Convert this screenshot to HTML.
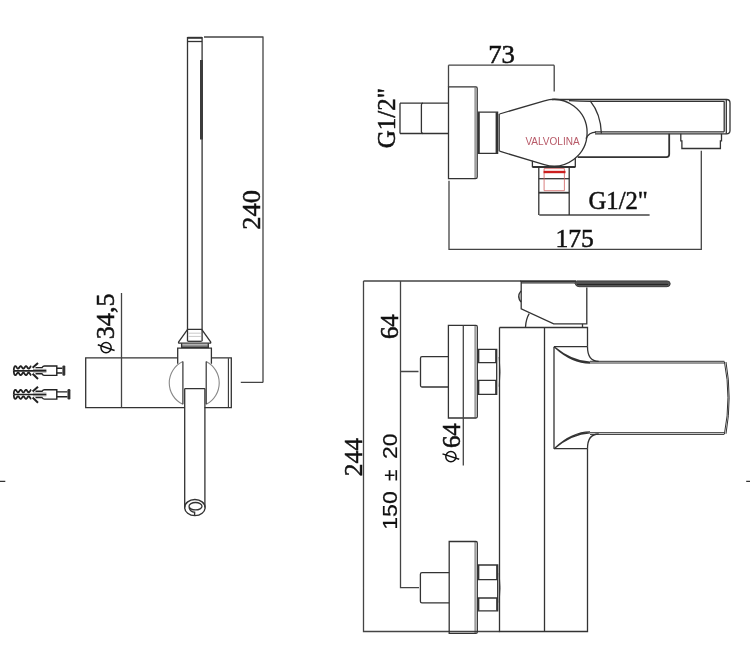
<!DOCTYPE html>
<html><head><meta charset="utf-8"><style>
html,body{margin:0;padding:0;background:#fff;}
svg{display:block;} text{-webkit-font-smoothing:antialiased;}
</style></head><body>
<svg width="750" height="646" viewBox="0 0 750 646" style="will-change:transform">
<rect width="750" height="646" fill="#fff"/>
<g stroke="#333" stroke-width="1.3" fill="none">
<path d="M187.5,37 V341.3 M202.1,37 V341.3"/>
<path d="M187.5,37.8 H202.1" stroke-width="2"/>
<path d="M187.5,41.5 H202.1"/>
<rect x="200" y="60" width="3" height="79.5" fill="#3c3c3c" stroke="none"/>
<path d="M187.6,329.4 H201.7 L210.6,341.8 Q211.2,343.2 209.8,343.2 H179.5 Q178.1,343.2 178.7,341.8 Z"/>
<path d="M187.6,341.3 H201.7"/>
<path d="M188.5,333.2 H200.8 M188.5,336.4 H200.8" stroke="#bbb" stroke-width="0.8"/>
<path d="M181.6,343.2 V347 M208.3,343.2 V347"/>
<path d="M181.6,345.1 H208.3" stroke-width="0.9"/>
<path d="M181,347.2 H209" stroke-width="1.8"/>
<path d="M177.7,363.7 V348.2 H211.4 V363.7"/>
<path d="M177.7,357.8 H85.7 V407.6 H184.5 M211.4,357.8 H231.3 V407.6 H204.5"/>
<path d="M228.4,358.3 V407.1" stroke-width="1.1"/>
<path d="M121.5,293 V407.6" stroke="#444"/>
<path d="M182.9,361.5 A23.6,23.6 0 0 0 182.9,404.3 M206.2,361.5 A24.1,24.1 0 0 1 206.2,404.3" stroke="#888" stroke-width="1.1"/>
<path d="M182.9,361.5 V404.3 M206.2,361.5 V404.3" stroke-width="1.2"/>
<path d="M184.7,388.6 H204.9 M184.7,388.6 V507.6 M204.9,388.6 V507.6"/>
<ellipse cx="194.9" cy="507.6" rx="10.2" ry="8.05" stroke-width="1.4"/>
<ellipse cx="195.5" cy="506.2" rx="6.5" ry="3.7" stroke-width="1.3"/>
<path d="M189.2,507.3 Q190,512 194.6,512.2 V515.6" stroke-width="1.4"/>
<path d="M204,37 H263.5 M263,37 V382.4 M240.8,382.4 H263" stroke="#444"/>
</g>
<g stroke="#222" stroke-width="1.4" fill="none"><path d="M13.8,370.80 Q13.8,366.15 15.40,366.15 L15.70,366.23 L16.00,366.45 L16.30,366.80 L16.60,367.22 L16.90,367.66 L17.20,368.07 L17.50,368.39 L17.80,368.60 L18.10,368.65 L18.40,368.54 L18.70,368.30 L19.00,367.94 L19.30,367.51 L19.60,367.07 L19.90,366.67 L20.20,366.36 L20.50,366.18 L20.80,366.16 L21.10,366.29 L21.40,366.56 L21.70,366.93 L22.00,367.36 L22.30,367.80 L22.60,368.19 L22.90,368.48 L23.20,368.63 L23.50,368.63 L23.80,368.48 L24.10,368.19 L24.40,367.80 L24.70,367.36 L25.00,366.93 L25.30,366.56 L25.60,366.29 L25.90,366.16 L26.20,366.18 L26.50,366.36 L26.80,366.67 L27.10,367.07 L27.40,367.51 L27.70,367.94 L28.00,368.30 L28.30,368.54 L28.60,368.65 L28.90,368.60 L29.20,368.39 L29.50,368.07 L29.80,367.66 L30.10,367.22 L30.40,366.80 L30.70,366.45 L31.00,366.23 L31.30,366.15" stroke-width="1.8"/><path d="M13.8,370.80 Q13.8,375.15 15.40,375.15 L15.70,375.07 L16.00,374.85 L16.30,374.50 L16.60,374.08 L16.90,373.64 L17.20,373.23 L17.50,372.91 L17.80,372.70 L18.10,372.65 L18.40,372.76 L18.70,373.00 L19.00,373.36 L19.30,373.79 L19.60,374.23 L19.90,374.63 L20.20,374.94 L20.50,375.12 L20.80,375.14 L21.10,375.01 L21.40,374.74 L21.70,374.37 L22.00,373.94 L22.30,373.50 L22.60,373.11 L22.90,372.82 L23.20,372.67 L23.50,372.67 L23.80,372.82 L24.10,373.11 L24.40,373.50 L24.70,373.94 L25.00,374.37 L25.30,374.74 L25.60,375.01 L25.90,375.14 L26.20,375.12 L26.50,374.94 L26.80,374.63 L27.10,374.23 L27.40,373.79 L27.70,373.36 L28.00,373.00 L28.30,372.76 L28.60,372.65 L28.90,372.70 L29.20,372.91 L29.50,373.23 L29.80,373.64 L30.10,374.08 L30.40,374.50 L30.70,374.85 L31.00,375.07 L31.30,375.15" stroke-width="1.8"/><path d="M14,370.8 H46.4" stroke-width="1.7"/><path d="M33,369.40000000000003 H46.4 M33,372.1 H46.4" stroke-width="0.8" stroke="#777"/><path d="M32.6,367.8 L38,363.0 M32.6,373.8 L38,379.0" stroke-width="2"/><path d="M35.5,367.6 H42 Q43,366.0 44.5,366.0 H56.8 V375.40000000000003 H44.5 Q43,375.40000000000003 42,373.8 H35.5"/><path d="M56.8,368.2 H62.4 M56.8,373.0 H62.4"/><rect x="62.4" y="365.40000000000003" width="2.9" height="10.4" rx="1.2" fill="#333" stroke="none"/></g>
<g stroke="#222" stroke-width="1.4" fill="none"><path d="M13.8,394.50 Q13.8,389.85 15.40,389.85 L15.70,389.93 L16.00,390.15 L16.30,390.50 L16.60,390.92 L16.90,391.36 L17.20,391.77 L17.50,392.09 L17.80,392.30 L18.10,392.35 L18.40,392.24 L18.70,392.00 L19.00,391.64 L19.30,391.21 L19.60,390.77 L19.90,390.37 L20.20,390.06 L20.50,389.88 L20.80,389.86 L21.10,389.99 L21.40,390.26 L21.70,390.63 L22.00,391.06 L22.30,391.50 L22.60,391.89 L22.90,392.18 L23.20,392.33 L23.50,392.33 L23.80,392.18 L24.10,391.89 L24.40,391.50 L24.70,391.06 L25.00,390.63 L25.30,390.26 L25.60,389.99 L25.90,389.86 L26.20,389.88 L26.50,390.06 L26.80,390.37 L27.10,390.77 L27.40,391.21 L27.70,391.64 L28.00,392.00 L28.30,392.24 L28.60,392.35 L28.90,392.30 L29.20,392.09 L29.50,391.77 L29.80,391.36 L30.10,390.92 L30.40,390.50 L30.70,390.15 L31.00,389.93 L31.30,389.85" stroke-width="1.8"/><path d="M13.8,394.50 Q13.8,398.85 15.40,398.85 L15.70,398.77 L16.00,398.55 L16.30,398.20 L16.60,397.78 L16.90,397.34 L17.20,396.93 L17.50,396.61 L17.80,396.40 L18.10,396.35 L18.40,396.46 L18.70,396.70 L19.00,397.06 L19.30,397.49 L19.60,397.93 L19.90,398.33 L20.20,398.64 L20.50,398.82 L20.80,398.84 L21.10,398.71 L21.40,398.44 L21.70,398.07 L22.00,397.64 L22.30,397.20 L22.60,396.81 L22.90,396.52 L23.20,396.37 L23.50,396.37 L23.80,396.52 L24.10,396.81 L24.40,397.20 L24.70,397.64 L25.00,398.07 L25.30,398.44 L25.60,398.71 L25.90,398.84 L26.20,398.82 L26.50,398.64 L26.80,398.33 L27.10,397.93 L27.40,397.49 L27.70,397.06 L28.00,396.70 L28.30,396.46 L28.60,396.35 L28.90,396.40 L29.20,396.61 L29.50,396.93 L29.80,397.34 L30.10,397.78 L30.40,398.20 L30.70,398.55 L31.00,398.77 L31.30,398.85" stroke-width="1.8"/><path d="M14,394.5 H46.4" stroke-width="1.7"/><path d="M33,393.1 H46.4 M33,395.8 H46.4" stroke-width="0.8" stroke="#777"/><path d="M32.6,391.5 L38,386.7 M32.6,397.5 L38,402.7" stroke-width="2"/><path d="M35.5,391.3 H42 Q43,389.7 44.5,389.7 H56.8 V399.1 H44.5 Q43,399.1 42,397.5 H35.5"/><path d="M56.8,391.9 H67.5 M56.8,396.7 H67.5"/><rect x="67.5" y="389.1" width="2.9" height="10.4" rx="1.2" fill="#333" stroke="none"/></g>
<path d="M0,481.4 H5.3 M746.2,481.4 H750" stroke="#333" stroke-width="1.3"/>
<g stroke="#333" stroke-width="1.3" fill="none">
<path d="M448.5,65.2 H554.2 M554.2,65.2 V91.6 M448.5,65.2 V86.8 M449,180.7 V249.3 H701.3 V150.7" stroke="#444"/>
<path d="M539.3,215 H649.6" stroke="#444"/>
<path d="M400,103.2 H448.5 M400,133.5 H448.5 M400,103.2 V133.5"/>
<path d="M423,103.2 Q421.4,103.2 421.4,105 V131.7 Q421.4,133.5 423,133.5"/>
<path d="M448.5,86.8 H476 Q477.2,86.8 477.2,88.5 V177 Q477.2,178.7 475.5,178.7 H448.5 Z"/>
<path d="M475.1,87.5 V178" stroke-width="0.8"/>
<path d="M477.8,112.2 H497.6 V153.3 H477.8"/>
<rect x="477.8" y="112.2" width="2" height="41.1" fill="#333" stroke="none"/>
<rect x="495.6" y="112.2" width="2" height="41.1" fill="#333" stroke="none"/>
<path d="M499.2,114 V151.2"/>
<path d="M499.5,114 L544.38,100.76 A33.3,33.3 0 1 1 544.25,164.6 L499.5,151.2"/>
<path d="M552,99.5 H726.5 Q730,99.5 730,103 V130.5 Q730,133.8 726.5,133.8 H595"/>
<path d="M569,100.6 Q580,101.3 590.2,101.3 H724.2 M594.8,131.8 H724.2 M724.2,101.3 V131.8 M726.3,99.6 V133.8"/>
<path d="M590.2,100.8 C596,108 601,120 601.4,133.5"/>
<path d="M585.9,138.6 Q589,132.2 596,132.2"/>
<path d="M577.7,157.1 H666.4 Q669.2,157.1 669.2,154.3 V133.8" stroke-width="1.8"/>
<path d="M680.8,133.8 V140.9 H681.9 V148.5 H720.4 V140.9 H721.5 V133.8"/>
<path d="M532.4,160.8 V166.7 H575.3 V158.1"/>
<path d="M532.4,166.9 H575.3" stroke-width="2"/>
<path d="M538.8,167 V215 M569.2,167 V215"/>
<path d="M538.8,178.7 H569.2"/>
<path d="M538.8,192.7 H569.2" stroke-width="1.8"/>
<path d="M544.1,168.6 V190.7 H564.4 V168.6 Z" stroke="#d06060" stroke-width="0.8"/>
<path d="M543.6,172 H565.5" stroke="#cc1f1f" stroke-width="2.4"/>
</g>
<text x="552.5" y="144.8" font-family="Liberation Sans, sans-serif" font-size="10.2" fill="#b85a68" text-anchor="middle" textLength="54.2" lengthAdjust="spacingAndGlyphs">VALVOLINA</text>
<g stroke="#333" stroke-width="1.3" fill="none">
<path d="M363.5,281 H521 M363.5,281 V631.5 H499.5 M400.5,281 V587.6 H419 M400.5,371.5 H418.5" stroke="#444"/>
<path d="M448.4,356.7 H422 Q420.5,356.7 420.5,358.2 V385.5 Q420.5,387 422,387 H448.4"/>
<path d="M448.4,325.4 H476 Q477.3,325.4 477.3,327 V416.5 Q477.3,418 476,418 H448.4 Z"/>
<path d="M475.1,326 V417.5" stroke-width="0.8"/>
<path d="M463.3,325.4 V465.6" stroke="#444"/>
<path d="M477.3,349.4 H496.7 V394.3 H477.3 M477.3,362.6 H496.7 M477.3,380.4 H496.7"/>
<path d="M478.6,349.4 V362.6 M478.6,380.4 V394.3 M495.9,349.4 V362.6 M495.9,380.4 V394.3" stroke-width="1.5"/>
<path d="M499,357 Q501.5,371.8 499,386.6" stroke="#777" stroke-width="0.9"/>
<path d="M449.2,572.7 H422 Q420.4,572.7 420.4,574.3 V601.2 Q420.4,602.8 422,602.8 H449.2"/>
<path d="M449.2,541.5 H476 Q477.3,541.5 477.3,543 V632 Q477.3,633.3 476,633.3 H449.2 Z"/>
<path d="M475.1,542 V633" stroke-width="0.8"/>
<path d="M477,565 H497.7 V610.8 H477 M477,579.6 H497.7 M477,598 H497.7"/>
<path d="M478.6,565 V579.6 M478.6,598 V610.8 M496.9,565 V579.6 M496.9,598 V610.8" stroke-width="1.5"/>
<path d="M499,573 Q501.5,587.8 499,602.6" stroke="#777" stroke-width="0.9"/>
<path d="M499.5,327.5 H587.5 V346.7 M499.5,327.5 V631.5 H587.5 V448.7 M544.5,327.5 V631.5"/>
<path d="M554,346.7 V448.7 M554,346.7 H587.5 M554,448.7 H587.5"/>
<path d="M587.5,346.7 Q587.5,361.3 598.7,361.3 M587.5,448.7 Q587.5,434 598.7,434"/>
<path d="M554,346.7 Q572,361.5 590,362.2 M555,347.5 Q572,363 590,363.2 M554,448.7 Q572,433.5 590,432.8 M555,447.9 Q572,432 590,431.8"/>
<path d="M590,361.3 H724.4 M590,363 H724.4 M590,432.7 H724.4 M590,434.4 H724.4" stroke-width="1"/>
<path d="M724.4,361.7 Q731.5,397.8 724.4,434 M726,362 Q732.3,397.8 726,433.8" stroke-width="1"/>
<path d="M521.2,281 V308.9 L553.7,323.9 H586.8 V287.6"/>
<path d="M521.2,282.8 H575"/>
<path d="M520.5,281.1 H576" stroke-width="1.8"/>
<path d="M521,290.8 Q516.5,296.4 521,302"/>
<path d="M525.5,327 Q526,319 529.2,313.7"/>
<path d="M582.5,323.9 V327.1"/>
<path d="M576.5,280.9 H667 Q670.2,280.9 670.2,283.8 Q670.2,286.7 667,286.7 H579 Q576,286.7 575,283.5 Z" fill="#555" stroke="#333" stroke-width="0.9"/>
<path d="M577,284.4 H668" stroke="#222" stroke-width="1"/>
</g>
<text transform="translate(260.2,209.95) rotate(-90)" x="0" y="0" font-family="Liberation Serif, serif" font-size="25" fill="#111" stroke="#111" stroke-width="0.5" text-anchor="middle" textLength="39.4" lengthAdjust="spacingAndGlyphs">240</text>
<text transform="translate(114.3,316.35) rotate(-90)" x="0" y="0" font-family="Liberation Serif, serif" font-size="25" fill="#111" stroke="#111" stroke-width="0.5" text-anchor="middle" textLength="45.9" lengthAdjust="spacingAndGlyphs">34,5</text>
<g stroke="#111" stroke-width="1.5" fill="none"><circle cx="106.05" cy="347.6" r="5.1"/><path d="M97.8,344.7 L114.6,350.5"/></g>
<text x="501.6" y="62.6" font-family="Liberation Serif, serif" font-size="25" fill="#111" stroke="#111" stroke-width="0.5" text-anchor="middle" textLength="26.8" lengthAdjust="spacingAndGlyphs">73</text>
<text transform="translate(394.8,118.2) rotate(-90)" x="0" y="0" font-family="Liberation Serif, serif" font-size="25" fill="#111" stroke="#111" stroke-width="0.5" text-anchor="middle" textLength="60.2" lengthAdjust="spacingAndGlyphs">G1/2"</text>
<text x="618.2" y="208.7" font-family="Liberation Serif, serif" font-size="25" fill="#111" stroke="#111" stroke-width="0.5" text-anchor="middle" textLength="59.4" lengthAdjust="spacingAndGlyphs">G1/2"</text>
<text x="574.7" y="247.1" font-family="Liberation Serif, serif" font-size="25" fill="#111" stroke="#111" stroke-width="0.5" text-anchor="middle" textLength="38.4" lengthAdjust="spacingAndGlyphs">175</text>
<text transform="translate(397.7,326.65) rotate(-90)" x="0" y="0" font-family="Liberation Serif, serif" font-size="25" fill="#111" stroke="#111" stroke-width="0.5" text-anchor="middle" textLength="24.9" lengthAdjust="spacingAndGlyphs">64</text>
<text transform="translate(362.3,457.15) rotate(-90)" x="0" y="0" font-family="Liberation Serif, serif" font-size="25" fill="#111" stroke="#111" stroke-width="0.5" text-anchor="middle" textLength="38.2" lengthAdjust="spacingAndGlyphs">244</text>
<text transform="translate(396.6,446.3) rotate(-90)" x="0" y="0" font-family="Liberation Sans, sans-serif" font-size="20" fill="#111" stroke="#111" stroke-width="0.2" text-anchor="middle" textLength="25.4" lengthAdjust="spacingAndGlyphs">20</text>
<text transform="translate(396.6,475.2) rotate(-90)" x="0" y="0" font-family="Liberation Sans, sans-serif" font-size="20" fill="#111" stroke="#111" stroke-width="0.2" text-anchor="middle" textLength="11.5" lengthAdjust="spacingAndGlyphs">&#177;</text>
<text transform="translate(396.6,510.5) rotate(-90)" x="0" y="0" font-family="Liberation Sans, sans-serif" font-size="20" fill="#111" stroke="#111" stroke-width="0.2" text-anchor="middle" textLength="38.6" lengthAdjust="spacingAndGlyphs">150</text>
<text transform="translate(459.9,435.65) rotate(-90)" x="0" y="0" font-family="Liberation Serif, serif" font-size="25" fill="#111" stroke="#111" stroke-width="0.5" text-anchor="middle" textLength="24.9" lengthAdjust="spacingAndGlyphs">64</text>
<g stroke="#111" stroke-width="1.5" fill="none"><circle cx="450.9" cy="456.7" r="5.1"/><path d="M442.5,453.9 L459.2,459.2"/></g>
</svg>
</body></html>
